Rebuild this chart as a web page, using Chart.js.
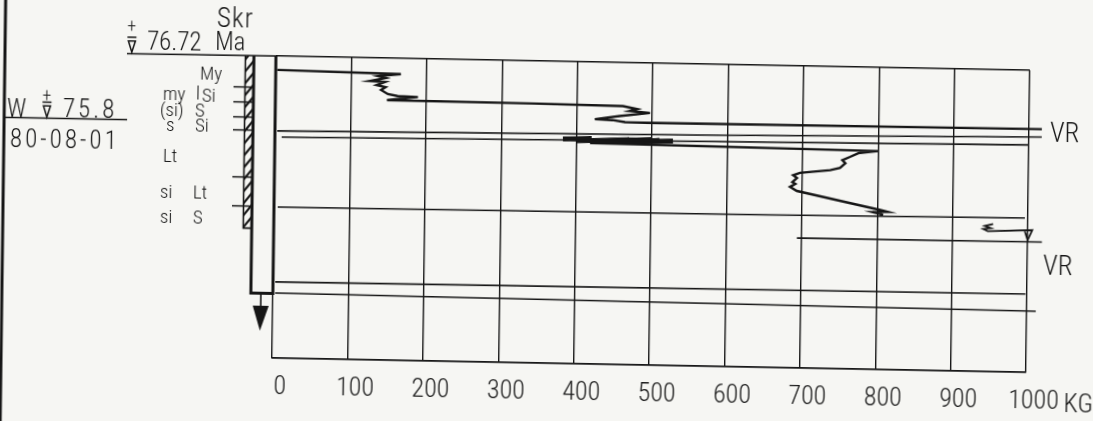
<!DOCTYPE html>
<html>
<head>
<meta charset="utf-8">
<script src="https://cdn.jsdelivr.net/npm/chart.js@4.4.1/dist/chart.umd.min.js"></script>
<style>
html, body { margin: 0; padding: 0; background: #f6f6f3; overflow: hidden; }
#wrap { width: 1093px; height: 421px; position: relative; overflow: hidden; }
/* the scan is slightly skewed, so the whole drawing is too */
#sounding { display: block; transform: matrix(1, 0.019, -0.013, 1, 0, 0); transform-origin: 276px 56px; }
</style>
</head>
<body>
<div id="wrap"><canvas id="sounding" width="1100" height="440"></canvas></div>
<script>
// x axis: load in kg, y axis: depth below ground (m)
const kgTicks = [0, 100, 200, 300, 400, 500, 600, 700, 800, 900, 1000];
const depthMax = 10;

// upper curve, ends in the upper VR line
const traceAKg    = [2, 166, 136, 146, 125, 145, 134, 146, 140, 149, 162, 189, 148, 342, 461, 480, 470, 497, 457, 424, 447, 464, 497, 1017];
const traceADepth = [0.46, 0.52, 0.60, 0.66, 0.77, 0.79, 0.90, 0.96, 1.06, 1.19, 1.25, 1.27, 1.39, 1.41, 1.44, 1.53, 1.60, 1.65, 1.77, 1.89, 1.91, 1.97, 1.98, 1.94];

// long lines at the first VR
const lineBKg    = [3, 564, 1017];
const lineBDepth = [2.48, 2.35, 2.20];
const lineCKg    = [9, 378, 1000];
const lineCDepth = [2.68, 2.60, 2.47];
const blobKg     = [382, 420, 400, 470, 440, 510, 480, 528];
const blobDepth  = [2.57, 2.53, 2.62, 2.55, 2.63, 2.56, 2.61, 2.57];
const blob2Kg    = [440, 500, 455, 515, 470];
const blob2Depth = [2.58, 2.52, 2.64, 2.58, 2.54];

// middle curve
const traceDKg    = [418, 800, 774, 763, 753, 757, 750, 737, 697, 688, 693, 687, 691, 684, 693, 804, 814, 794, 808];
const traceDDepth = [2.68, 2.77, 2.85, 2.98, 3.09, 3.19, 3.35, 3.43, 3.54, 3.62, 3.71, 3.85, 3.91, 4.01, 4.14, 4.72, 4.78, 4.79, 4.88];

const lineEKg    = [5, 658, 996];
const lineEDepth = [5.00, 4.95, 4.89];

// lower curve with the end mark
const traceFKg    = [954, 943, 951, 941, 947, 1006, 1000, 996];
const traceFDepth = [5.11, 5.18, 5.25, 5.28, 5.35, 5.29, 5.62, 5.32];

const lineGKg    = [694, 1019];
const lineGDepth = [5.70, 5.68];
const lineHKg    = [3, 998];
const lineHDepth = [7.48, 7.41];
const lineIKg    = [3, 1012];
const lineIDepth = [7.85, 7.97];

const ink = '#161616';
const FAMILY = 'Roboto, "DejaVu Sans Condensed", sans-serif';
const STRETCH = '300 condensed';

const pts = (kg, depth) => kg.map((v, i) => ({ x: v, y: depth[i] }));
const line = (kg, depth, w) => ({
	data: pts(kg, depth),
	showLine: true,
	borderColor: ink,
	backgroundColor: ink,
	borderWidth: w,
	pointRadius: 0,
	tension: 0,
	clip: false
});

function txt(ctx, s, x, y, size, align, spacing) {
	ctx.font = STRETCH + ' ' + size + 'px ' + FAMILY;
	ctx.textAlign = align || 'left';
	ctx.textBaseline = 'alphabetic';
	ctx.letterSpacing = spacing || '0px';
	ctx.fillText(s, x, y);
	ctx.letterSpacing = '0px';
}

function nabla(ctx, cx, top, h) {
	const w = h * 0.6;
	ctx.beginPath();
	ctx.moveTo(cx - w / 2, top);
	ctx.lineTo(cx + w / 2, top);
	ctx.moveTo(cx - w / 2 + 1, top + h * 0.25);
	ctx.lineTo(cx + w / 2 - 1, top + h * 0.25);
	ctx.lineTo(cx, top + h);
	ctx.closePath();
	ctx.stroke();
}

const extras = {
	id: 'extras',
	afterDraw(chart) {
		const ctx = chart.ctx;
		const xs = chart.scales.x;
		const area = chart.chartArea;
		ctx.save();
		ctx.strokeStyle = ink;
		ctx.fillStyle = ink;
		ctx.lineCap = 'butt';

		// frame edge of the sheet
		ctx.lineWidth = 3;
		ctx.beginPath(); ctx.moveTo(5, -30); ctx.lineTo(5, 470); ctx.stroke();

		// ground line under level text
		ctx.lineWidth = 1.6;
		ctx.beginPath(); ctx.moveTo(127, 56.5); ctx.lineTo(area.left, area.top); ctx.stroke();
		// water level underline
		ctx.beginPath(); ctx.moveTo(5, 122.5); ctx.lineTo(128, 122.5); ctx.stroke();

		// hatched soil column
		const hx0 = 245.5, hx1 = 254, hy1 = 228.6;
		ctx.lineWidth = 1.6;
		ctx.beginPath(); ctx.moveTo(hx0, area.top); ctx.lineTo(hx0, hy1); ctx.lineTo(hx1, hy1); ctx.stroke();
		ctx.save();
		ctx.beginPath(); ctx.rect(hx0, area.top, hx1 - hx0, hy1 - area.top); ctx.clip();
		ctx.lineWidth = 2.2;
		for (let y = 60; y < 250; y += 12) {
			ctx.beginPath(); ctx.moveTo(hx0 - 1, y + 1); ctx.lineTo(hx1 + 1, y - 12); ctx.stroke();
		}
		ctx.restore();

		// layer ticks
		ctx.lineWidth = 1.5;
		[87.6, 102.6, 117.6, 130.6, 177.6, 206.6].forEach(y => {
			ctx.beginPath(); ctx.moveTo(234, y); ctx.lineTo(254, y); ctx.stroke();
		});

		// rod
		ctx.lineWidth = 3;
		ctx.beginPath();
		ctx.moveTo(254, area.top); ctx.lineTo(254, 293.5); ctx.lineTo(area.left, 293.5); ctx.lineTo(area.left, area.top);
		ctx.stroke();
		ctx.lineWidth = 1.6;
		ctx.beginPath(); ctx.moveTo(264, 293.5); ctx.lineTo(264, 306); ctx.stroke();
		ctx.beginPath(); ctx.moveTo(256, 306); ctx.lineTo(272, 306); ctx.lineTo(263.5, 331); ctx.closePath(); ctx.fill();

		// header texts
		txt(ctx, 'Skr', 216.5, 27.8, 27, 'left', '1px');
		txt(ctx, '+', 131.5, 35, 18, 'center');
		ctx.lineWidth = 1.5;
		nabla(ctx, 131.8, 40, 15);
		txt(ctx, '76.72', 146.9, 52, 25, 'left');
		txt(ctx, 'Ma', 214.9, 51, 25, 'left');

		txt(ctx, 'W', 7.7, 121.6, 25, 'left');
		txt(ctx, '+', 47.5, 105.5, 18, 'center');
		nabla(ctx, 47.7, 106.5, 15);
		txt(ctx, '75.8', 63.7, 120.5, 25, 'left', '3px');
		txt(ctx, '80-08-01', 11, 152, 25, 'left', '3px');

		// soil layers
		const s = 19;
		txt(ctx, 'My', 200.2, 81.2, s);
		txt(ctx, 'my', 163.5, 101.9, s);
		txt(ctx, 'l', 196.5, 100.5, s);
		txt(ctx, 'Si', 202.5, 102.7, s);
		txt(ctx, '(si)', 160.7, 118, s);
		txt(ctx, 'S', 195.7, 118, s);
		txt(ctx, 's', 167, 133, s);
		txt(ctx, 'Si', 196, 133, s);
		txt(ctx, 'Lt', 164.3, 163.7, s);
		txt(ctx, 'si', 161.8, 200, s);
		txt(ctx, 'Lt', 194.8, 200, s);
		txt(ctx, 'si', 162, 225, s);
		txt(ctx, 'S', 195, 225, s);

		// VR marks and unit
		txt(ctx, 'VR', 1051, 127.3, 27);
		txt(ctx, 'VR', 1045.8, 260.4, 27);
		txt(ctx, 'KG', xs.getPixelForValue(1000) + 38, 397, 26);
		ctx.restore();
	}
};

const canvas = document.getElementById('sounding');
const chart = new Chart(canvas.getContext('2d'), {
	type: 'scatter',
	data: {
		datasets: [
			line(traceAKg, traceADepth, 2.4),
			line(lineBKg, lineBDepth, 1.6),
			line(lineCKg, lineCDepth, 1.6),
			line(blobKg, blobDepth, 5),
			line(blob2Kg, blob2Depth, 4),
			line(traceDKg, traceDDepth, 2.4),
			line(lineEKg, lineEDepth, 1.6),
			line(traceFKg, traceFDepth, 1.8),
			line(lineGKg, lineGDepth, 1.6),
			line(lineHKg, lineHDepth, 1.6),
			line(lineIKg, lineIDepth, 1.6)
		]
	},
	options: {
		responsive: false,
		animation: false,
		events: [],
		layout: { padding: { left: 276, top: 56, right: 70, bottom: 0 } },
		scales: {
			x: {
				type: 'linear',
				min: 0,
				max: 1000,
				afterBuildTicks: (sc) => { sc.ticks = kgTicks.map(v => ({ value: v })); },
				afterFit: (sc) => { sc.height = 82; },
				grid: { color: ink, lineWidth: 1.4, drawTicks: false },
				border: { display: true, color: ink, width: 1.6 },
				ticks: {
					color: '#1a1a1a',
					font: { family: FAMILY, size: 26, weight: STRETCH },
					padding: 14,
					labelOffset: 8,
					maxRotation: 0,
					autoSkip: false,
					callback: (v) => String(v)
				}
			},
			y: {
				type: 'linear',
				reverse: true,
				min: 0,
				max: depthMax,
				afterBuildTicks: (sc) => { sc.ticks = [{ value: 0 }, { value: depthMax }]; },
				grid: { color: ink, lineWidth: 1.6, drawTicks: false },
				border: { display: false },
				ticks: { display: false }
			}
		},
		plugins: {
			legend: { display: false },
			tooltip: { enabled: false }
		}
	},
	plugins: [extras]
});
</script>
</body>
</html>
